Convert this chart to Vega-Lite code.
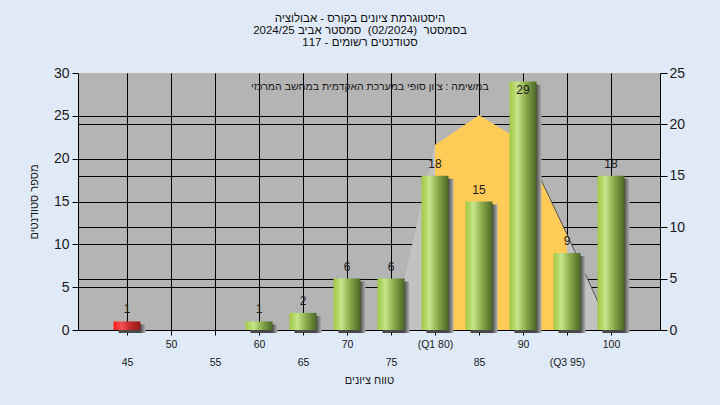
{
  "$schema": "https://vega.github.io/schema/vega-lite/v6.json",
  "width": 582,
  "height": 257,
  "autosize": {"type": "none"},
  "padding": {"left": 78, "top": 73, "right": 60, "bottom": 75},
  "background": "#e0e9f6",
  "title": {
    "text": ["היסטוגרמת ציונים בקורס - אבולוציה", "בסמסטר \u00a0(02/2024) \u00a0סמסטר אביב 2024/25", "סטודנטים רשומים - 117"],
    "font": "Liberation Sans",
    "fontSize": 11.5,
    "fontWeight": "normal",
    "color": "#111111",
    "lineHeight": 12,
    "anchor": "middle",
    "frame": "group",
    "dx": -9,
    "offset": 18
  },
  "config": {
    "view": {"stroke": null, "fill": "#b4b4b4"},
    "axis": {
      "labelFont": "Liberation Sans",
      "titleFont": "Liberation Sans",
      "labelColor": "#1a1a1a",
      "titleColor": "#1a1a1a",
      "titleFontWeight": "normal",
      "domainColor": "#000000",
      "tickColor": "#000000",
      "gridColor": "#000000",
      "gridWidth": 1,
      "gridOpacity": 1,
      "domainWidth": 1,
      "tickWidth": 1
    }
  },
  "datasets": {
    "hist": [
      {"grade": 45, "count": 1},
      {"grade": 50, "count": 0},
      {"grade": 55, "count": 0},
      {"grade": 60, "count": 1},
      {"grade": 65, "count": 2},
      {"grade": 70, "count": 6},
      {"grade": 75, "count": 6},
      {"grade": 80, "count": 18},
      {"grade": 85, "count": 15},
      {"grade": 90, "count": 29},
      {"grade": 95, "count": 9},
      {"grade": 100, "count": 18}
    ],
    "curve": [
      {"grade": 75.2, "height": 0},
      {"grade": 80, "height": 18.0},
      {"grade": 85, "height": 20.9},
      {"grade": 90, "height": 18.3},
      {"grade": 95, "height": 9.3},
      {"grade": 100, "height": 0}
    ],
    "note": [
      {"note": "במשימה : ציון סופי במערכת האקדמית במחשב המרכזי"}
    ]
  },
  "layer": [
    {
      "data": {"name": "curve"},
      "encoding": {
        "x": {
          "field": "grade",
          "type": "quantitative",
          "scale": {"domain": [40, 105], "nice": false, "zero": false},
          "axis": {
            "values": [45, 50, 55, 60, 65, 70, 75, 80, 85, 90, 95, 100],
            "labelExpr": "datum.value == 80 ? '(Q1 80)' : datum.value == 95 ? '(Q3 95)' : datum.value",
            "labelFontSize": 10.5,
            "labelPadding": {"condition": {"test": "datum.value % 10 == 5", "value": 22}, "value": 4},
            "labelFlush": false,
            "labelOverlap": false,
            "tickSize": 5,
            "grid": true,
            "title": "טווח ציונים",
            "titleFontSize": 11,
            "titlePadding": 7
          }
        },
        "y": {
          "field": "height",
          "type": "quantitative",
          "stack": null,
          "scale": {"domain": [0, 25], "nice": false},
          "axis": {
            "orient": "right",
            "values": [0, 5, 10, 15, 20, 25],
            "labelFontSize": 14,
            "tickSize": 7,
            "labelPadding": 2,
            "grid": true,
            "gridOpacity": {"condition": {"test": "datum.value == 25", "value": 0}, "value": 1},
            "title": null
          }
        }
      },
      "layer": [
        {"mark": {"type": "area", "color": "#c2c2c2", "interpolate": "linear"}},
        {
          "transform": [{"filter": "datum.grade >= 80 && datum.grade <= 95"}],
          "mark": {"type": "area", "color": "#ffcb57", "interpolate": "linear"}
        },
        {
          "transform": [{"filter": "datum.grade >= 90"}],
          "mark": {"type": "line", "color": "#505050", "strokeWidth": 1}
        }
      ]
    },
    {
      "layer": [
        {
          "data": {"name": "hist"},
          "mark": {
            "type": "bar",
            "size": 27,
            "xOffset": 5,
            "yOffset": 3,
            "fill": {
              "gradient": "linear", "x1": 0, "x2": 1, "y1": 0, "y2": 0,
              "stops": [
                {"offset": 0, "color": "#4a4a4a"},
                {"offset": 0.8, "color": "#4a4a4a"},
                {"offset": 1, "color": "#b2b2b2"}
              ]
            }
          },
          "encoding": {
            "x": {"field": "grade", "type": "quantitative", "scale": {"domain": [40, 105], "nice": false, "zero": false}},
            "y": {
              "field": "count",
              "type": "quantitative",
              "scale": {"domain": [0, 30], "nice": false},
              "axis": {
                "orient": "left",
                "values": [0, 5, 10, 15, 20, 25, 30],
                "labelFontSize": 14,
                "tickSize": 6,
                "labelPadding": 3,
                "grid": true,
                "gridOpacity": {"condition": {"test": "datum.value == 30", "value": 0}, "value": 1},
                "title": "מספר סטודנטים",
                "titleFontSize": 11,
                "titlePadding": 14
              }
            }
          }
        },
        {
          "data": {"name": "hist"},
          "transform": [{"filter": "datum.grade != 45"}],
          "mark": {
            "type": "bar",
            "size": 27,
            "fill": {
              "gradient": "linear", "x1": 0, "x2": 1, "y1": 0, "y2": 0,
              "stops": [
                {"offset": 0, "color": "#9fc93f"},
                {"offset": 0.3, "color": "#c6e48c"},
                {"offset": 0.55, "color": "#93b553"},
                {"offset": 1, "color": "#4b6626"}
              ]
            }
          },
          "encoding": {
            "x": {"field": "grade", "type": "quantitative"},
            "y": {"field": "count", "type": "quantitative"}
          }
        },
        {
          "data": {"name": "hist"},
          "transform": [{"filter": "datum.grade == 45"}],
          "mark": {
            "type": "bar",
            "size": 27,
            "fill": {
              "gradient": "linear", "x1": 0, "x2": 1, "y1": 0, "y2": 0,
              "stops": [
                {"offset": 0, "color": "#ff1a1a"},
                {"offset": 0.3, "color": "#f05050"},
                {"offset": 0.6, "color": "#c42a2a"},
                {"offset": 1, "color": "#8e1c1c"}
              ]
            }
          },
          "encoding": {
            "x": {"field": "grade", "type": "quantitative"},
            "y": {"field": "count", "type": "quantitative"}
          }
        },
        {
          "data": {"name": "hist"},
          "transform": [{"filter": "datum.count > 0 && datum.count < 27"}],
          "mark": {"type": "text", "baseline": "bottom", "dy": -5, "font": "Liberation Sans", "fontSize": 12, "color": "#1a1a1a"},
          "encoding": {
            "x": {"field": "grade", "type": "quantitative"},
            "y": {"field": "count", "type": "quantitative"},
            "text": {"field": "count", "type": "quantitative"}
          }
        },
        {
          "data": {"name": "hist"},
          "transform": [{"filter": "datum.count >= 27"}],
          "mark": {"type": "text", "baseline": "top", "dy": 3, "font": "Liberation Sans", "fontSize": 12, "color": "#1a1a1a"},
          "encoding": {
            "x": {"field": "grade", "type": "quantitative"},
            "y": {"field": "count", "type": "quantitative"},
            "text": {"field": "count", "type": "quantitative"}
          }
        },
        {
          "data": {"name": "note"},
          "mark": {"type": "text", "font": "Liberation Sans", "fontSize": 10.5, "color": "#1a1a1a", "baseline": "middle", "align": "center"},
          "encoding": {
            "x": {"datum": 72.6, "type": "quantitative"},
            "y": {"datum": 28.4, "type": "quantitative"},
            "text": {"field": "note", "type": "nominal"}
          }
        }
      ]
    }
  ],
  "resolve": {"scale": {"y": "independent"}, "axis": {"y": "independent"}}
}
